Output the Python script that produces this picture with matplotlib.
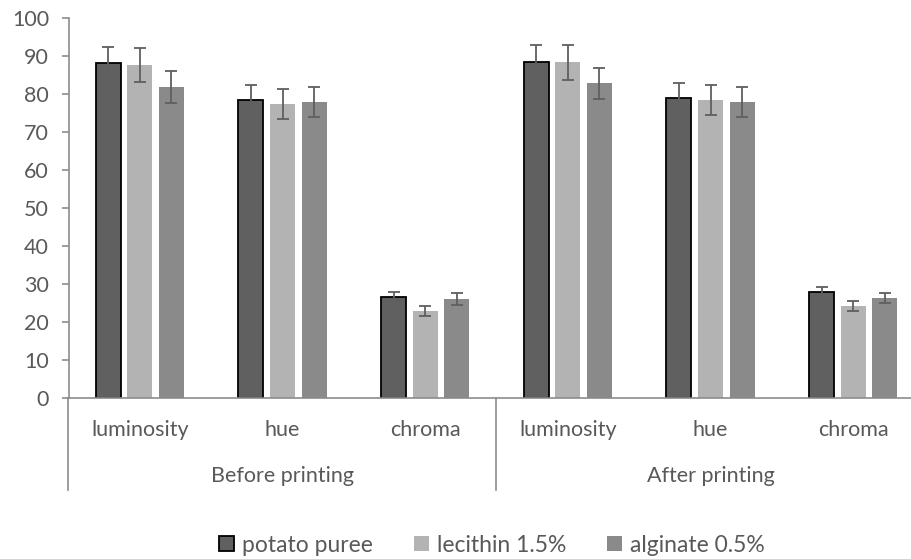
import matplotlib
matplotlib.use("Agg")
from matplotlib import pyplot as plt
import numpy as np

# data
groups = ["Before printing", "After printing"]
attributes = ["luminosity", "hue", "chroma"]
series = ["potato puree", "lecithin 1.5%", "alginate 0.5%"]

potato = [88.1, 78.5, 26.7, 88.4, 79.0, 27.8]
lecithin = [87.6, 77.3, 23.0, 88.3, 78.4, 24.3]
alginate = [81.8, 77.9, 26.1, 82.8, 77.9, 26.4]

potato_err = [4.3, 3.9, 1.2, 4.4, 4.0, 1.4]
lecithin_err = [4.5, 3.9, 1.3, 4.5, 4.0, 1.3]
alginate_err = [4.2, 3.9, 1.5, 4.1, 3.9, 1.3]

plt.rcParams['font.family'] = ['Lato', 'DejaVu Sans']
txt = "#595959"
axis_col = "#8c8c8c"
fs = 15.5

fig = plt.figure(figsize=(9.11, 5.59), dpi=100)
ax = fig.add_axes([68.5 / 911, 161 / 559, 856 / 911, 380 / 559])

x = np.arange(len(potato))
off = 0.221
w = 0.175
ekw = dict(ecolor="#5f5f5f", elinewidth=1.3, capsize=4.5, capthick=1.3)

ax.bar(x - off, potato, w, yerr=potato_err, color="#606060",
       edgecolor="black", linewidth=1.3, label=series[0], error_kw=ekw, zorder=2)
ax.bar(x, lecithin, w, yerr=lecithin_err, color="#b3b3b3",
       label=series[1], error_kw=ekw, zorder=2)
ax.bar(x + off, alginate, w, yerr=alginate_err, color="#8a8a8a",
       label=series[2], error_kw=ekw, zorder=2)

ax.set_xlim(-0.5, 5.5)
ax.set_ylim(0, 100)
ax.set_yticks(range(0, 101, 10))
ax.tick_params(axis="y", colors=axis_col, labelcolor=txt, labelsize=fs,
               length=5, width=1.2, pad=9)

ax.set_xticks(x)
ax.set_xticklabels(attributes * 2)
ax.tick_params(axis="x", length=0, labelcolor=txt, labelsize=fs, pad=16)

for s in ["top", "right"]:
    ax.spines[s].set_visible(False)
for s in ["left", "bottom"]:
    ax.spines[s].set_color(axis_col)
    ax.spines[s].set_linewidth(1.2)

# multi level category axis
trans = ax.get_xaxis_transform()
for xb in [-0.5, 2.5, 5.5]:
    ax.plot([xb, xb], [0, -0.242], transform=trans, color=axis_col,
            linewidth=1.2, clip_on=False)
for i, g in enumerate(groups):
    ax.text(1 + 3 * i, -0.205, g, transform=trans, ha="center", va="center",
            color=txt, fontsize=fs)

fig.legend(loc="center", bbox_to_anchor=(0.54, 0.025), ncol=3, frameon=False,
           fontsize=16.5, labelcolor=txt, handlelength=0.65, handleheight=0.65,
           handletextpad=0.35, columnspacing=1.8)

fig.savefig("out.png", dpi=100)
